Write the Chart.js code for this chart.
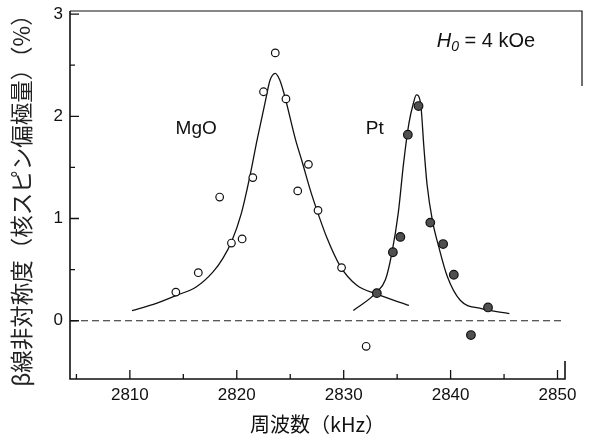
<!DOCTYPE html>
<html><head><meta charset="utf-8">
<script src="https://cdn.jsdelivr.net/npm/chart.js@4.4.1/dist/chart.umd.min.js"></script>
<style>html,body{margin:0;padding:0;background:#fff}</style>
</head><body>
<canvas id="c" width="602" height="441"></canvas>
<script>
// ---- data ----
const xTicks = [2810, 2820, 2830, 2840, 2850];
const xMinorTicks = [2805, 2815, 2825, 2835, 2845];
const yTicks = [0, 1, 2, 3];
const yMinorTicks = [0.5, 1.5, 2.5];

const mgoFreq  = [2814.3, 2816.4, 2818.4, 2819.5, 2820.5, 2821.5, 2822.5, 2823.6, 2824.6, 2825.7, 2826.7, 2827.6, 2829.8, 2832.1];
const mgoValue = [0.28, 0.47, 1.21, 0.76, 0.80, 1.40, 2.24, 2.62, 2.17, 1.27, 1.53, 1.08, 0.52, -0.25];

const ptFreq  = [2833.1, 2834.6, 2835.3, 2836.0, 2837.0, 2838.1, 2839.3, 2840.3, 2841.9, 2843.5];
const ptValue = [0.27, 0.67, 0.82, 1.82, 2.10, 0.96, 0.75, 0.45, -0.14, 0.13];

const mgoFitFreq  = [2810.2, 2812.2, 2814.4, 2816.2, 2817.8, 2818.7, 2819.5, 2820.4, 2821.2, 2821.9, 2822.7, 2823.1, 2823.6, 2824.0, 2824.4, 2825.5, 2826.1, 2826.9, 2827.5, 2828.4, 2829.7, 2831.2, 2833.1, 2836.1];
const mgoFitValue = [0.10, 0.16, 0.25, 0.33, 0.48, 0.61, 0.77, 1.04, 1.40, 1.77, 2.16, 2.35, 2.42, 2.36, 2.23, 1.77, 1.56, 1.27, 1.08, 0.82, 0.53, 0.35, 0.26, 0.15];

const ptFitFreq  = [2830.9, 2833.0, 2833.9, 2834.5, 2835.1, 2835.6, 2836.1, 2836.5, 2836.8, 2837.2, 2837.5, 2837.8, 2838.3, 2838.9, 2839.7, 2840.9, 2842.8, 2845.5];
const ptFitValue = [0.10, 0.27, 0.40, 0.66, 1.05, 1.54, 1.93, 2.12, 2.21, 2.12, 1.70, 1.33, 0.98, 0.72, 0.43, 0.20, 0.12, 0.07];

const zeroLevel = 0;
const sampleLabels = ['MgO', 'Pt'];
const sampleLabelFreq = [2816.2, 2832.9];
const sampleLabelValue = [1.88, 1.88];
const fieldLabelFreq = 2843.3;
const fieldLabelValue = 2.73;

const xTitle = '周波数（kHz）';
const yTitle = 'β線非対称度（核スピン偏極量）（%）';

// ---- chart ----
const pts = (xs, ys) => xs.map((v, i) => ({x: v, y: ys[i]}));
const SANS = "'Liberation Sans', Arial, Helvetica, sans-serif";
const CJK = "'Noto Sans CJK JP', 'Noto Sans', sans-serif";
Chart.defaults.font.family = SANS;
Chart.defaults.color = '#111';

const decor = {
  id: 'decor',
  beforeDatasetsDraw(chart) {
    const {ctx, chartArea: a, scales: {x, y}} = chart;
    ctx.save();
    // dashed zero line
    ctx.strokeStyle = '#222';
    ctx.lineWidth = 1.2;
    ctx.setLineDash([7, 4]);
    const y0 = y.getPixelForValue(zeroLevel);
    ctx.beginPath(); ctx.moveTo(a.left, y0); ctx.lineTo(a.right, y0); ctx.stroke();
    ctx.setLineDash([]);
    // frame: left and bottom axes
    ctx.strokeStyle = '#111';
    ctx.lineWidth = 1.6;
    ctx.beginPath();
    ctx.moveTo(a.left, a.top); ctx.lineTo(a.left, a.bottom); ctx.lineTo(a.right, a.bottom);
    ctx.lineTo(a.right, a.bottom - 18);
    ctx.stroke();
    // top border with right edge of the outer box
    ctx.lineWidth = 1.2;
    ctx.beginPath();
    ctx.moveTo(a.left, a.top); ctx.lineTo(a.right + 17, a.top);
    ctx.lineTo(a.right + 17, a.top + 75);
    ctx.stroke();
    // inward ticks
    ctx.lineWidth = 1.3;
    ctx.beginPath();
    xTicks.forEach(v => { const p = x.getPixelForValue(v); ctx.moveTo(p, a.bottom); ctx.lineTo(p, a.bottom - 9); });
    xMinorTicks.forEach(v => { const p = x.getPixelForValue(v); ctx.moveTo(p, a.bottom); ctx.lineTo(p, a.bottom - 5); });
    yTicks.forEach(v => { const p = y.getPixelForValue(v); ctx.moveTo(a.left, p); ctx.lineTo(a.left + 9, p); });
    yMinorTicks.forEach(v => { const p = y.getPixelForValue(v); ctx.moveTo(a.left, p); ctx.lineTo(a.left + 5, p); });
    ctx.stroke();
    ctx.restore();
  },
  afterDatasetsDraw(chart) {
    const {ctx, scales: {x, y}} = chart;
    ctx.save();
    ctx.fillStyle = '#111';
    ctx.textAlign = 'center';
    ctx.textBaseline = 'middle';
    ctx.font = '19px ' + SANS;
    sampleLabels.forEach((t, i) => {
      ctx.fillText(t, x.getPixelForValue(sampleLabelFreq[i]), y.getPixelForValue(sampleLabelValue[i]));
    });
    // H0 = 4 kOe
    const cx = x.getPixelForValue(fieldLabelFreq), cy = y.getPixelForValue(fieldLabelValue);
    ctx.textAlign = 'left';
    const fMain = 'italic 20px ' + SANS, fSub = 'italic 14px ' + SANS, fRest = '20px ' + SANS;
    ctx.font = fMain; const wH = ctx.measureText('H').width;
    ctx.font = fSub; const w0 = ctx.measureText('0').width;
    ctx.font = fRest; const rest = ' = 4 kOe'; const wR = ctx.measureText(rest).width;
    let sx = cx - (wH + w0 + wR) / 2;
    ctx.font = fMain; ctx.fillText('H', sx, cy); sx += wH;
    ctx.font = fSub; ctx.fillText('0', sx, cy + 5); sx += w0;
    ctx.font = fRest; ctx.fillText(rest, sx, cy);
    ctx.restore();
  }
};

const noPad = s => { s.paddingTop = 0; s.paddingBottom = 0; s.paddingLeft = 0; s.paddingRight = 0; };

new Chart(document.getElementById('c'), {
  type: 'scatter',
  data: {
    datasets: [
      { label: 'MgO', data: pts(mgoFreq, mgoValue), pointRadius: 3.8, pointBorderWidth: 1.2,
        pointBorderColor: '#111', pointBackgroundColor: '#fff', showLine: false },
      { label: 'Pt', data: pts(ptFreq, ptValue), pointRadius: 4.3, pointBorderWidth: 1.2,
        pointBorderColor: '#111', pointBackgroundColor: '#505050', showLine: false },
      { label: 'MgO fit', data: pts(mgoFitFreq, mgoFitValue), showLine: true, pointRadius: 0,
        borderColor: '#111', borderWidth: 1.3, cubicInterpolationMode: 'monotone', fill: false },
      { label: 'Pt fit', data: pts(ptFitFreq, ptFitValue), showLine: true, pointRadius: 0,
        borderColor: '#111', borderWidth: 1.3, cubicInterpolationMode: 'monotone', fill: false }
    ]
  },
  options: {
    responsive: false,
    animation: false,
    devicePixelRatio: 1,
    layout: { padding: { top: 11, right: 37, left: 0, bottom: 0 } },
    plugins: { legend: { display: false }, tooltip: { enabled: false } },
    scales: {
      x: {
        type: 'linear', min: 2804.4, max: 2850.7,
        afterBuildTicks: s => { s.ticks = xTicks.map(v => ({value: v})); },
        afterFit: s => { s.height = 62; noPad(s); },
        grid: { display: false, drawTicks: false },
        border: { display: false },
        ticks: { padding: 6, font: { size: 17 }, color: '#111', callback: v => String(v) },
        title: { display: true, text: xTitle, font: { family: CJK, size: 20 }, color: '#111',
                 padding: { top: 0, bottom: 5 } }
      },
      y: {
        type: 'linear', min: -0.57, max: 3.03,
        afterBuildTicks: s => { s.ticks = yTicks.map(v => ({value: v})); },
        afterFit: s => { s.width = 70; noPad(s); },
        grid: { display: false, drawTicks: false },
        border: { display: false },
        ticks: { padding: 7, font: { size: 17 }, color: '#111', callback: v => String(v) },
        title: { display: true, text: yTitle, font: { family: CJK, size: 22.5 }, color: '#222',
                 padding: { top: 8, bottom: 0 } }
      }
    }
  },
  plugins: [decor]
});
</script>
</body></html>
